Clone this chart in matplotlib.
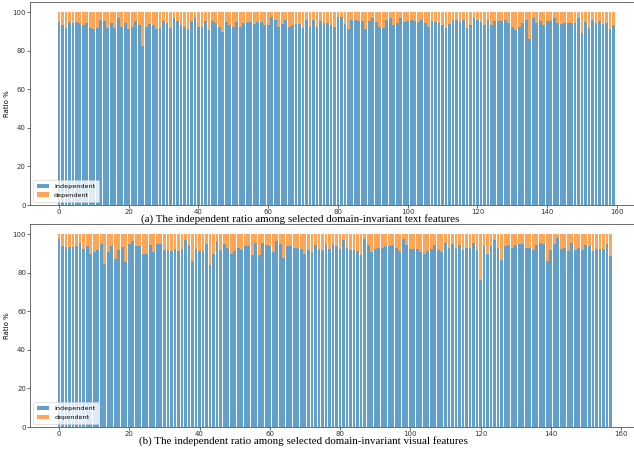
import matplotlib
matplotlib.use("Agg")
import matplotlib.pyplot as plt
import numpy as np

# Independent ratio (%) per selected text feature
text_independent = [
    94.8, 93.1, 91.7, 94.8, 94.3, 94.8, 94.3, 93.1, 94.3, 91.7,
    91.2, 91.7, 96.0, 95.5, 91.7, 94.3, 91.7, 96.9, 92.2, 94.3,
    91.2, 92.2, 95.5, 93.1, 82.2, 92.2, 93.8, 93.1, 91.2, 91.7,
    95.5, 94.3, 91.7, 96.9, 95.5, 93.1, 92.2, 91.2, 95.5, 97.2,
    92.2, 92.2, 95.5, 90.5, 95.5, 94.3, 92.2, 89.6, 94.8, 93.1,
    92.2, 94.8, 92.2, 94.3, 94.8, 94.8, 93.8, 94.8, 94.8, 93.1,
    93.1, 97.2, 96.0, 92.2, 93.8, 96.0, 92.2, 93.1, 93.8, 93.8,
    91.7, 96.0, 92.2, 96.0, 92.2, 95.5, 94.3, 94.3, 93.1, 92.2,
    97.2, 97.2, 93.8, 91.2, 96.0, 96.0, 95.5, 95.5, 91.2, 95.5,
    96.9, 94.8, 92.2, 91.7, 96.0, 96.9, 93.1, 94.3, 96.9, 94.8,
    95.5, 96.0, 95.5, 94.8, 96.0, 94.3, 92.2, 95.5, 94.8, 94.3,
    93.1, 91.7, 93.8, 96.0, 96.0, 94.8, 96.0, 91.7, 93.1, 96.9,
    96.0, 94.8, 93.1, 96.0, 93.1, 95.5, 95.5, 95.5, 96.0, 94.3,
    92.2, 90.5, 92.2, 94.3, 96.0, 86.0, 96.9, 94.3, 95.5, 93.1,
    95.5, 95.5, 96.9, 94.3, 93.8, 94.3, 94.3, 94.3, 94.3, 96.9,
    89.1, 94.8, 91.7, 96.0, 94.3, 95.5, 93.8, 94.3, 91.2, 93.1,
]

# Independent ratio (%) per selected visual feature
visual_independent = [
    97.4, 93.6, 93.1, 93.1, 93.1, 93.6, 95.3, 92.2, 93.6, 89.8,
    90.5, 91.7, 94.8, 84.6, 90.5, 93.6, 87.0, 91.7, 93.1, 85.5,
    94.8, 96.2, 93.6, 93.6, 89.8, 89.8, 94.1, 90.5, 94.8, 94.8,
    91.7, 91.7, 91.0, 92.2, 91.0, 92.2, 96.7, 94.1, 86.0, 92.2,
    91.0, 91.0, 94.8, 84.1, 89.8, 96.2, 91.7, 94.8, 92.9, 89.8,
    91.0, 92.9, 91.7, 93.6, 93.6, 89.1, 95.3, 89.1, 95.3, 94.1,
    93.6, 90.5, 96.2, 94.8, 87.7, 93.6, 93.6, 92.9, 92.9, 92.2,
    89.8, 91.7, 90.5, 94.1, 92.2, 91.7, 94.1, 92.2, 94.8, 93.6,
    92.2, 96.7, 92.9, 91.7, 91.7, 91.0, 89.1, 97.4, 94.1, 90.5,
    92.2, 92.9, 92.9, 93.6, 93.6, 94.1, 92.9, 91.0, 97.4, 94.1,
    92.2, 92.2, 92.2, 90.5, 89.8, 91.0, 92.2, 94.1, 91.7, 90.5,
    95.3, 92.9, 94.8, 92.9, 94.1, 91.7, 92.9, 92.9, 95.3, 91.7,
    76.3, 93.6, 89.8, 93.6, 96.7, 92.9, 86.5, 93.6, 94.1, 92.9,
    94.1, 94.8, 94.8, 92.9, 92.9, 91.7, 94.1, 95.3, 94.8, 85.8,
    91.7, 94.8, 97.9, 92.2, 92.9, 91.0, 95.3, 91.7, 92.9, 91.7,
    94.1, 93.6, 91.0, 92.2, 92.2, 92.2, 94.8, 88.6,
]

captions = [
    "(a) The independent ratio among selected domain-invariant text features",
    "(b) The independent ratio among selected domain-invariant visual features",
]
series_labels = ["independent", "dependent"]
x_ticks = [0, 20, 40, 60, 80, 100, 120, 140, 160]
y_ticks = [0, 20, 40, 60, 80, 100]

W, H = 634, 451
fig = plt.figure(figsize=(W / 100, H / 100), dpi=100)

# panel boxes in pixel terms: (left, top, right, bottom)
panels = [
    (29.7, 2.4, 642.7, 205.0),
    (29.9, 224.4, 639.6, 427.0),
]
caption_pos = [(300, 219.3), (303, 441)]

for data, box, cap, cpos in zip([text_independent, visual_independent],
                                panels, captions, caption_pos):
    l, t, r, b = box
    ax = fig.add_axes([l / W, 1 - b / H, (r - l) / W, (b - t) / H])
    ind = np.array(data)
    dep = 100 - ind
    x = np.arange(len(ind))
    ax.bar(x, ind, width=0.8, color="#1f77b4", alpha=0.7, label=series_labels[0])
    ax.bar(x, dep, width=0.8, bottom=ind, color="#ff7f0e", alpha=0.7,
           label=series_labels[1])
    ax.set_xticks(x_ticks)
    ax.set_yticks(y_ticks)
    ax.tick_params(labelsize=5, length=2, width=0.5, pad=0.8, colors="#333333")
    for s in ax.spines.values():
        s.set_linewidth(0.6)
        s.set_color("#555555")
    ax.set_ylabel("Ratio %", fontsize=5, labelpad=2)
    leg = ax.legend(loc="lower left", fontsize=4.6, frameon=True,
                    handlelength=1.9, borderpad=0.6, labelspacing=0.5)
    leg.get_frame().set_linewidth(0.5)
    fig.text(cpos[0] / W, 1 - cpos[1] / H, cap, ha="center", va="center",
             fontsize=7.9, family="Liberation Serif")

fig.savefig("out.png", dpi=100)
